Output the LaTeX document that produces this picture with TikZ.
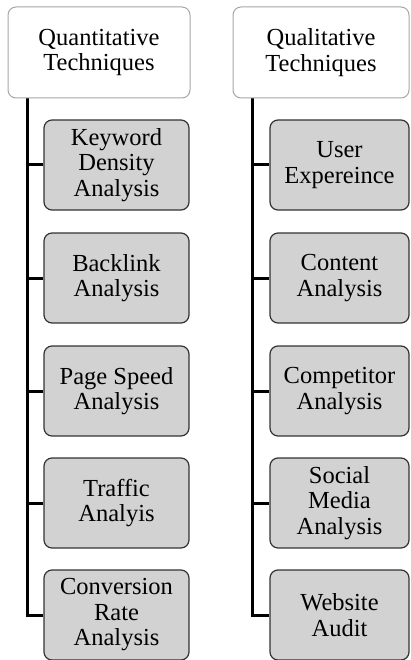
\documentclass[tikz,border=0pt]{standalone}
\usepackage{fontspec}
\setmainfont{Liberation Serif}
\usetikzlibrary{backgrounds}
\begin{document}
\begin{tikzpicture}[x=1pt,y=-1pt,
  txt/.style={align=center, inner sep=0pt, font=\fontsize{24.5}{25.5}\selectfont},
  topbox/.style={txt, draw=black!35, line width=1pt, fill=white, rounded corners=8pt, minimum height=91pt},
  childbox/.style={txt, draw=black!80, line width=1.2pt, fill=gray!35, rounded corners=8pt, minimum height=90pt},
  conn/.style={line width=3pt, black}]
\useasboundingbox (0,0) rectangle (410,660);
% anchors for the vertical trunks
\coordinate (vL) at (27,0);
\coordinate (vR) at (252,0);
% top boxes
\node[topbox, minimum width=182pt] (qt) at (99,52.5) {Quantitative\\Techniques};
\node[topbox, minimum width=176pt] (ql) at (321,52.5) {Qualitative\\Techniques};
% left children
\node[childbox, minimum width=145pt] (l1) at (116.5,165) {Keyword\\Density\\Analysis};
\node[childbox, minimum width=145pt] (l2) at (116.5,278) {Backlink\\Analysis};
\node[childbox, minimum width=145pt] (l3) at (116.5,391) {Page Speed\\Analysis};
\node[childbox, minimum width=145pt] (l4) at (116.5,503) {Traffic\\Analyis};
\node[childbox, minimum width=145pt] (l5) at (116.5,615) {Conversion\\Rate\\Analysis};
% right children
\node[childbox, minimum width=139pt] (r1) at (339.5,165) {User\\Expereince};
\node[childbox, minimum width=139pt] (r2) at (339.5,278) {Content\\Analysis};
\node[childbox, minimum width=139pt] (r3) at (339.5,391) {Competitor\\Analysis};
\node[childbox, minimum width=139pt] (r4) at (339.5,503) {Social\\Media\\Analysis};
\node[childbox, minimum width=139pt] (r5) at (339.5,615) {Website\\Audit};
% connectors
\begin{scope}[on background layer]
\draw[conn] (qt.south -| vL) |- (l5.west);
\foreach \n in {l1,l2,l3,l4}{\draw[conn] (\n.west -| vL) -- (\n.west);}
\draw[conn] (ql.south -| vR) |- (r5.west);
\foreach \n in {r1,r2,r3,r4}{\draw[conn] (\n.west -| vR) -- (\n.west);}
\end{scope}
\end{tikzpicture}
\end{document}
